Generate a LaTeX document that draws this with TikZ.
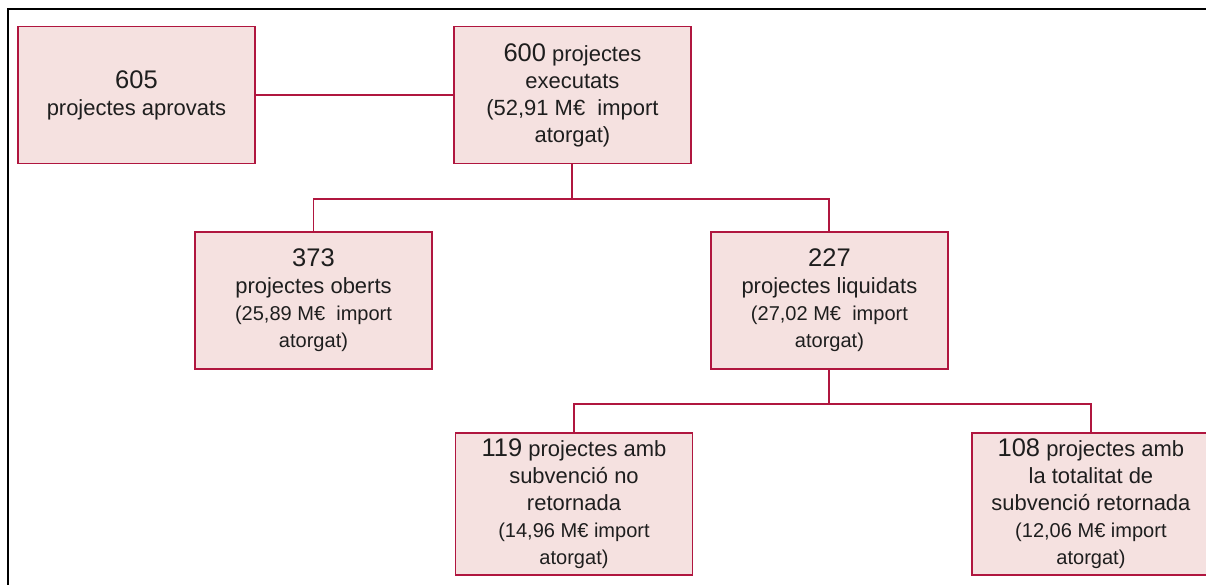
\documentclass[tikz,border=0pt]{standalone}
\usepackage{fontspec}
\setmainfont{Liberation Sans}
\usetikzlibrary{positioning}
\definecolor{boxred}{HTML}{B0163F}
\definecolor{boxpink}{HTML}{F5E1E0}
\definecolor{txtgray}{HTML}{1E1E1E}
\newcommand{\projnum}{\fontsize{14.5}{17}\selectfont}
\newcommand{\importtxt}{\fontsize{11.4}{13}\selectfont}
\tikzset{
proj/.style={draw=boxred, fill=boxpink, line width=1.1pt, minimum width=4.74cm, minimum height=2.74cm, align=center, text=txtgray, font=\fontsize{12.5}{15.4}\selectfont}, % every box of the tree
link/.style={draw=boxred, line width=1.1pt}, % the lines that join the boxes
}

\begin{document}
\begin{tikzpicture}
        \useasboundingbox (0,0) rectangle (24.12,-11.70);
        \draw[line width=1.2pt] (0.16,-11.9) -- (0.16,-0.18) -- (24.3,-0.18);
        \node[proj] (605) at (2.73,-1.90) {{\projnum 605}\\projectes aprovats};
        \node[proj, right=3.94cm of 605] (600) {{\projnum 600} projectes\\executats\\(52,91 M€~ import\\atorgat)};
        \node[proj] (373) at (6.27,-6.01) {{\projnum 373}\\projectes oberts\\{\importtxt (25,89 M€~ import}\\{\importtxt atorgat)}};
        \node[proj, right=5.54cm of 373] (227) {{\projnum 227}\\projectes liquidats\\{\importtxt (27,02 M€~ import}\\{\importtxt atorgat)}};
        \node[proj] (119) at (11.48,-10.08) {{\projnum 119} projectes amb\\subvenció no\\retornada\\{\importtxt (14,96 M€ import}\\{\importtxt atorgat)}};
        \node[proj, right=5.56cm of 119] (108) {{\projnum 108} projectes amb\\la totalitat de\\subvenció retornada\\{\importtxt (12,06 M€ import}\\{\importtxt atorgat)}};
        \coordinate[below=0.70cm of 600] (split1);
        \coordinate[below=0.68cm of 227] (split2);
        \draw[link] (605) -- (600)
        (600) -- (split1)
        (227) -- (split2);
        \draw[link] (373) |- (split1) -| (227);
        \draw[link] (119) |- (split2) -| (108);
        \end{tikzpicture}
\end{document}
